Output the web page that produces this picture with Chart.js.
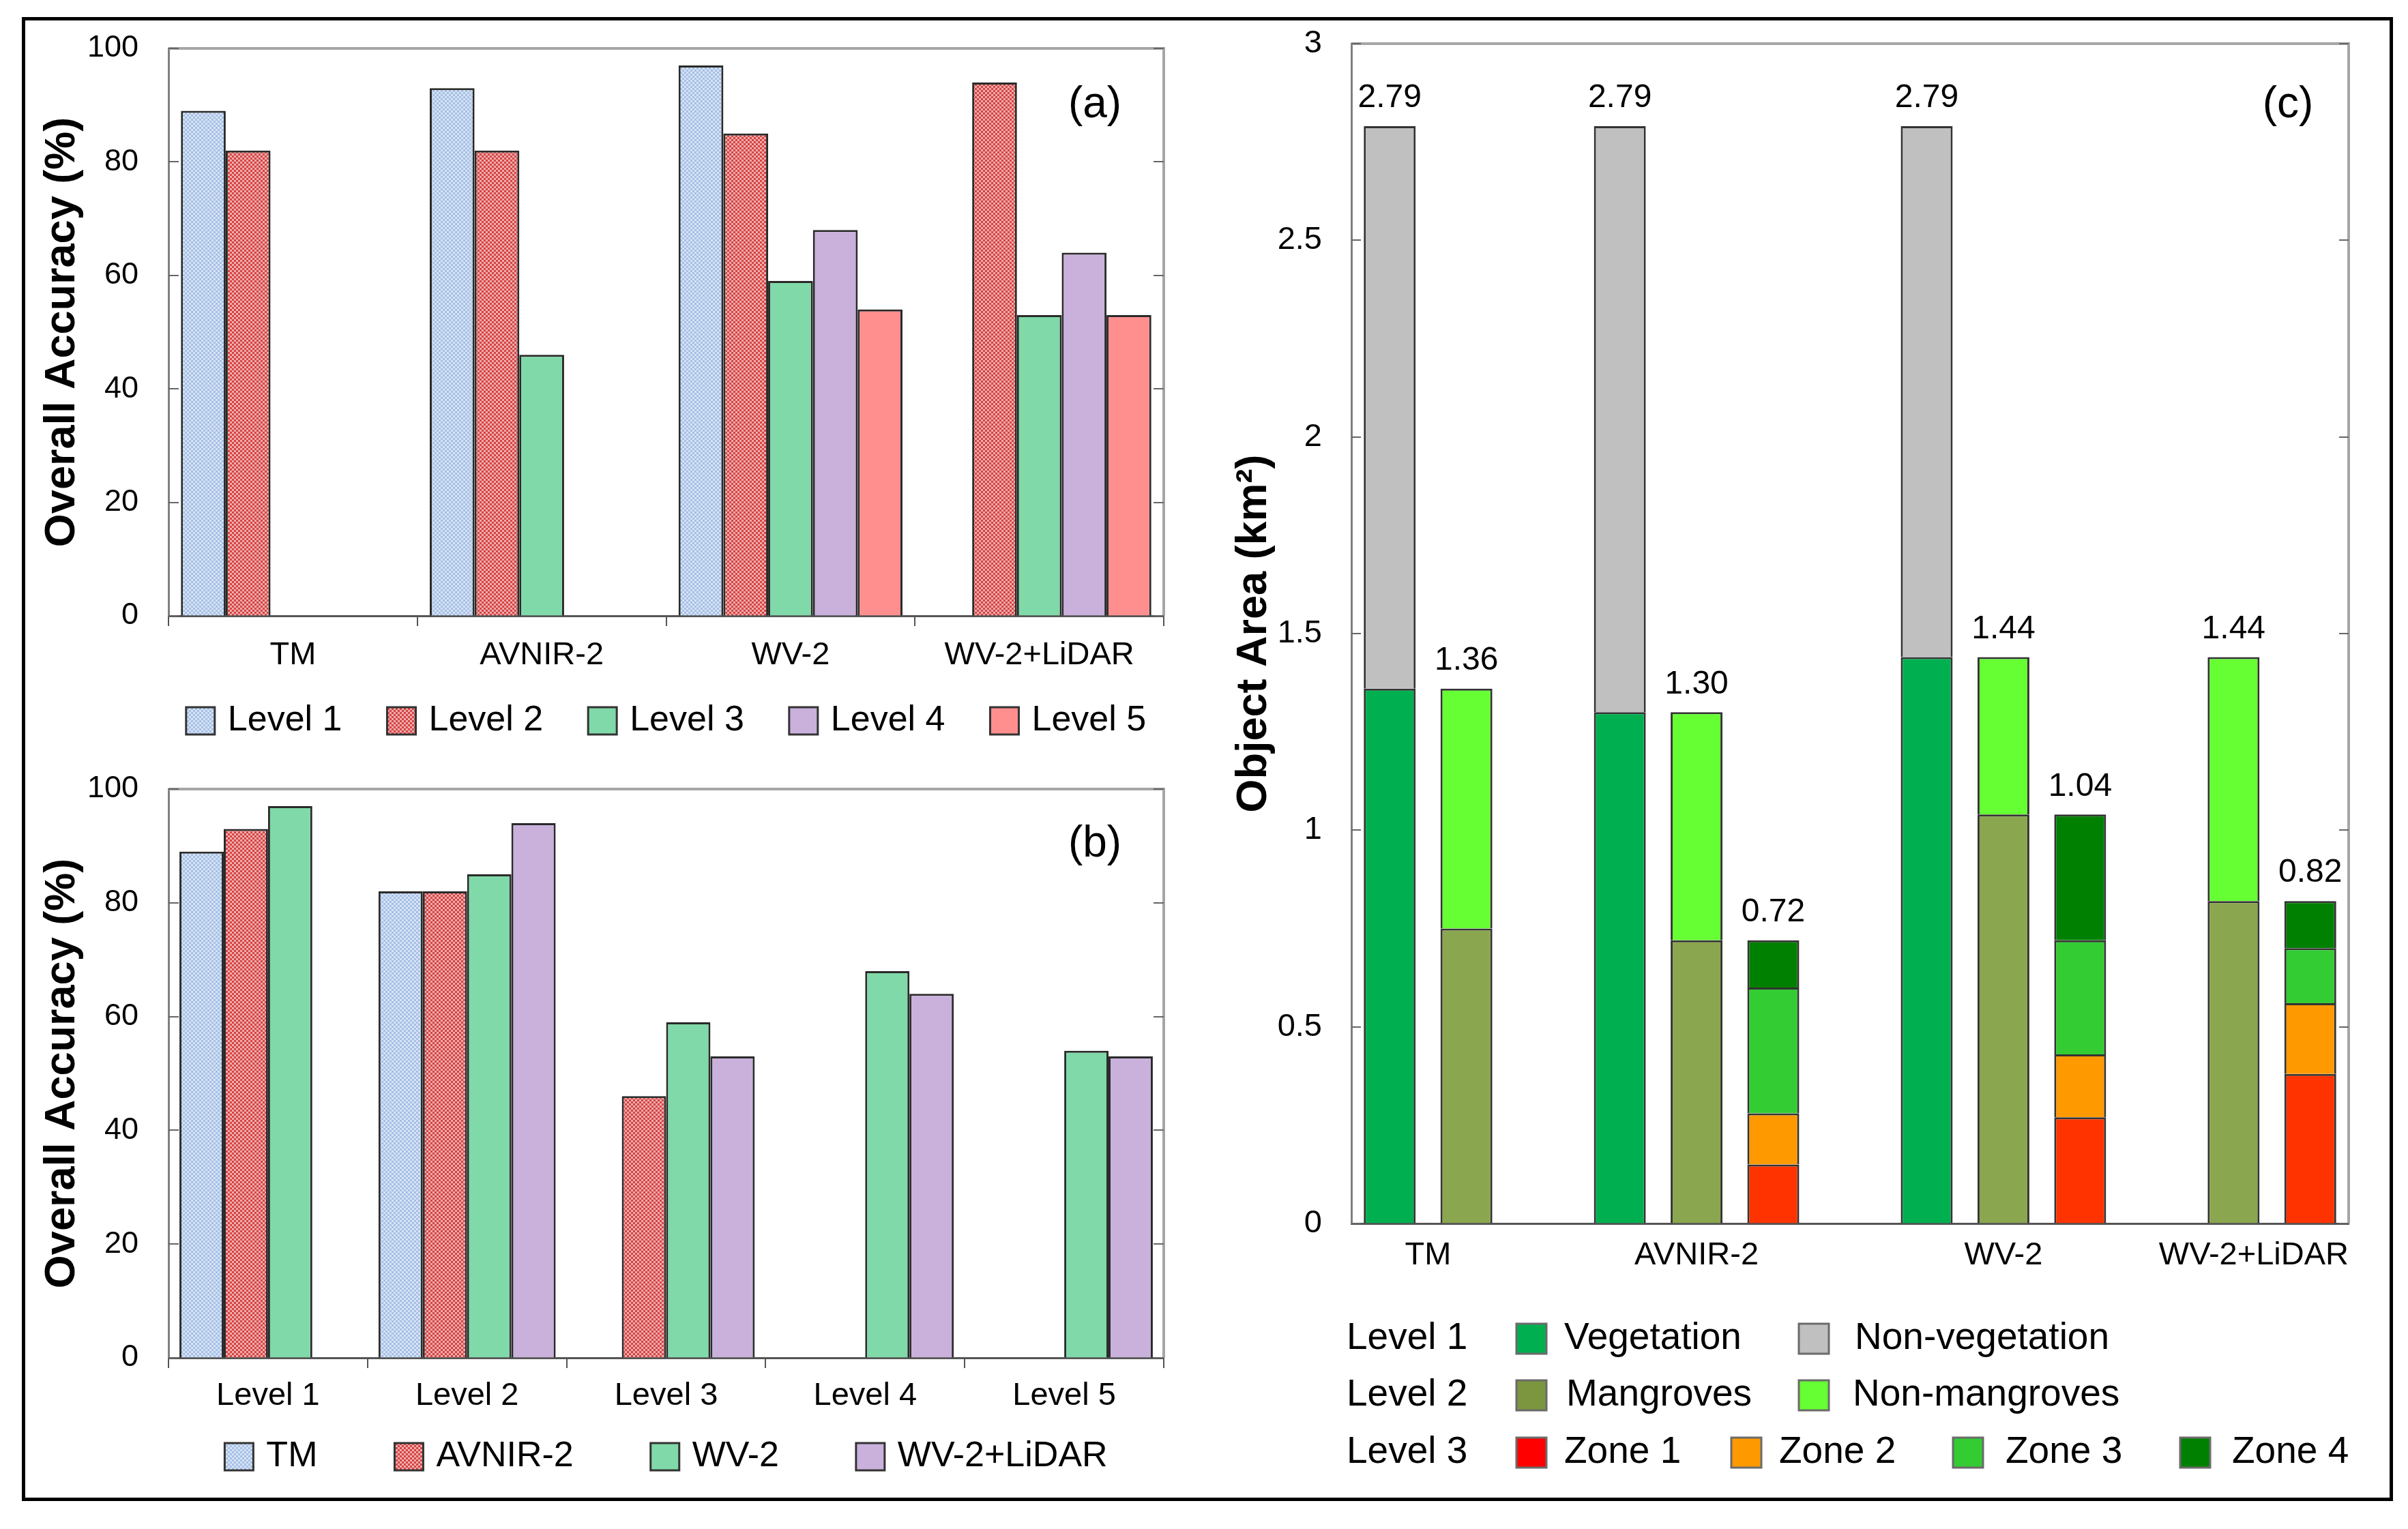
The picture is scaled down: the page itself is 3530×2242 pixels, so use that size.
<!DOCTYPE html>
<html>
<head>
<meta charset="utf-8">
<script src="https://cdn.jsdelivr.net/npm/chart.js@4.4.1/dist/chart.umd.min.js"></script>
<style>
  html, body { margin: 0; padding: 0; background: #ffffff; }
  body { width: 3530px; height: 2242px; position: relative; overflow: hidden; }
  .box { position: absolute; }
  #frame { position: absolute; left: 32px; top: 25px; width: 3466px; height: 2166px; border: 5px solid #000; pointer-events: none; z-index: 5; }
</style>
</head>
<body>
<div id="frame"></div>
<div class="box" style="left:40px;top:30px;width:1730px;height:1090px"><canvas id="ca"></canvas></div>
<div class="box" style="left:40px;top:1120px;width:1730px;height:1070px"><canvas id="cb"></canvas></div>
<div class="box" style="left:1775px;top:30px;width:1725px;height:2160px"><canvas id="cc"></canvas></div>
<script>
// ---------------- DATA ----------------
const sensors = ["TM", "AVNIR-2", "WV-2", "WV-2+LiDAR"];
const levels = ["Level 1", "Level 2", "Level 3", "Level 4", "Level 5"];
// Overall accuracy (%) per level, indexed by sensor
const accLevel1 = [89, 93, 97, null];
const accLevel2 = [82, 82, 85, 94];
const accLevel3 = [null, 46, 59, 53];
const accLevel4 = [null, null, 68, 64];
const accLevel5 = [null, null, 54, 53];
const yTicksAcc = [0, 20, 40, 60, 80, 100];

// Object area (km2) per sensor
const vegetation    = [1.36, 1.30, 1.44, null];
const nonVegetation = [1.43, 1.49, 1.35, null];
const mangroves     = [0.75, 0.72, 1.04, 0.82];
const nonMangroves  = [0.61, 0.58, 0.40, 0.62];
const zone1 = [null, 0.15, 0.27, 0.38];
const zone2 = [null, 0.13, 0.16, 0.18];
const zone3 = [null, 0.32, 0.29, 0.14];
const zone4 = [null, 0.12, 0.32, 0.12];
const yTicksArea = [0, 0.5, 1, 1.5, 2, 2.5, 3];

// ---------------- LAYOUT (slots on panel c axis) ----------------
const slotStart = [0, 3, 7, 10];   // first slot of each sensor group
const slotCount = 13;

Chart.defaults.font.family = "'Liberation Sans', Arial, Helvetica, sans-serif";
Chart.defaults.color = '#000';
Chart.defaults.animation = false;

function checker(ctx, c1, c2) {
  const cv = document.createElement('canvas');
  cv.width = 6; cv.height = 6;
  const x = cv.getContext('2d');
  x.fillStyle = c2; x.fillRect(0, 0, 6, 6);
  x.fillStyle = c1; x.fillRect(0, 0, 3, 3); x.fillRect(3, 3, 3, 3);
  return ctx.createPattern(cv, 'repeat');
}

// place the plot area top at a fixed canvas offset
function pinTop(chart, wantTop) {
  for (let k = 0; k < 5; k++) {
    const d = wantTop - chart.chartArea.top;
    if (Math.abs(d) < 0.5) break;
    const p = chart.config.options.layout.padding;
    p.top = p.top + d;
    chart.update('none');
  }
}

// ---------------- PLUGINS ----------------
const decor = {
  id: 'decor',
  afterDraw(chart, args, o) {
    const { ctx, chartArea: a } = chart;
    const ys = chart.scales.y;
    ctx.save();
    ctx.strokeStyle = o.frameColor; ctx.lineWidth = o.frameWidth;
    ctx.beginPath();
    ctx.moveTo(a.left, a.top); ctx.lineTo(a.right, a.top); ctx.lineTo(a.right, a.bottom);
    ctx.stroke();
    ctx.strokeStyle = o.tickColor; ctx.lineWidth = 2;
    ys.ticks.forEach(t => {
      const p = Math.round(ys.getPixelForValue(t.value));
      ctx.beginPath();
      ctx.moveTo(a.left, p); ctx.lineTo(a.left + o.tickLen, p);
      ctx.moveTo(a.right, p); ctx.lineTo(a.right - o.tickLen, p);
      ctx.stroke();
    });
    ctx.fillStyle = '#000'; ctx.font = o.letterFont;
    ctx.textAlign = 'center'; ctx.textBaseline = 'middle';
    ctx.fillText(o.letter, a.right - o.letterDx, a.top + o.letterDy);
    ctx.restore();
  }
};

const rowLegend = {
  id: 'rowLegend',
  afterDraw(chart, args, o) {
    if (!o.enabled) return;
    const { ctx, chartArea: a } = chart;
    ctx.save();
    ctx.font = o.font;
    const items = chart.data.datasets.map(d => ({
      label: d.label, fill: d.backgroundColor,
      w: o.box + o.textGap + ctx.measureText(d.label).width
    }));
    const total = items.reduce((s, i) => s + i.w, 0) + o.gap * (items.length - 1);
    let x = (a.left + a.right) / 2 - total / 2;
    const y = a.bottom + o.dy;
    items.forEach(it => {
      ctx.fillStyle = it.fill;
      ctx.fillRect(x, y - o.boxH / 2, o.box, o.boxH);
      ctx.strokeStyle = '#333'; ctx.lineWidth = 3;
      ctx.strokeRect(x, y - o.boxH / 2, o.box, o.boxH);
      ctx.fillStyle = '#000'; ctx.textAlign = 'left'; ctx.textBaseline = 'middle';
      ctx.fillText(it.label, x + o.box + o.textGap, y);
      x += it.w + o.gap;
    });
    ctx.restore();
  }
};

const areaExtras = {
  id: 'areaExtras',
  afterDraw(chart, args, o) {
    if (!o.enabled) return;
    const { ctx, chartArea: a } = chart;
    const xs = chart.scales.x;
    const ds = chart.data.datasets;
    ctx.save();
    // stack totals
    ctx.font = o.valueFont; ctx.fillStyle = '#000';
    ctx.textAlign = 'center'; ctx.textBaseline = 'middle';
    for (let i = 0; i < chart.data.labels.length; i++) {
      let sum = 0, top = null, x = null;
      ds.forEach((d, di) => {
        const v = d.data[i];
        if (v == null) return;
        sum += v;
        const el = chart.getDatasetMeta(di).data[i];
        x = el.x; top = top == null ? el.y : Math.min(top, el.y);
      });
      if (x != null) ctx.fillText(sum.toFixed(2), x, top - o.valueDy);
    }
    // category labels
    ctx.font = o.catFont;
    o.categories.forEach((name, c) => {
      const px = [];
      o.slotCategory.forEach((sc, s) => {
        if (sc !== c) return;
        if (ds.some(d => d.data[s] != null)) px.push(xs.getPixelForValue(s));
      });
      if (!px.length) return;
      let cx = px.reduce((p, q) => p + q, 0) / px.length;
      const w = ctx.measureText(name).width;
      cx = Math.min(cx, a.right - w / 2);
      ctx.fillText(name, cx, a.bottom + o.catDy);
    });
    // grid legend
    ctx.font = o.legendFont;
    o.rows.forEach((row) => {
      const y = a.bottom + row.dy;
      ctx.fillStyle = '#000'; ctx.textAlign = 'left'; ctx.textBaseline = 'middle';
      ctx.fillText(row.title, a.left + o.rowTitleDx, y);
      const members = ds.filter(d => d.level === row.level);
      members.forEach((d, k) => {
        const sx = a.left + row.cols[k];
        ctx.fillStyle = d.legendColor || d.backgroundColor;
        ctx.fillRect(sx, y - o.box / 2, o.box, o.box);
        ctx.strokeStyle = '#6b6b6b'; ctx.lineWidth = 3;
        ctx.strokeRect(sx, y - o.box / 2, o.box, o.box);
        ctx.fillStyle = '#000';
        ctx.fillText(d.label, a.left + row.texts[k], y);
      });
    });
    ctx.restore();
  }
};

// ---------------- PANELS (a) and (b) ----------------
const ctxA = document.getElementById('ca').getContext('2d');
const ctxB = document.getElementById('cb').getContext('2d');
const accByLevel = [accLevel1, accLevel2, accLevel3, accLevel4, accLevel5];

function levelFills(ctx) {
  return [
    checker(ctx, '#a6bfe5', '#d6e3f4'),
    checker(ctx, '#d54444', '#efacac'),
    '#80d9a8',
    '#c9b1dc',
    '#ff8f8f'
  ];
}
const fillsA = levelFills(ctxA);
const fillsB = levelFills(ctxB);

function accScales(tickPad, xHeight, yWidth) {
  return {
    x: {
      offset: true,
      grid: { display: true, offset: true, drawOnChartArea: false, drawTicks: true, tickLength: 15, color: '#555', lineWidth: 2 },
      border: { display: true, color: '#555', width: 3 },
      ticks: { font: { size: 47 }, color: '#000', padding: tickPad, maxRotation: 0, autoSkip: false },
      afterFit(s) { s.height = xHeight; }
    },
    y: {
      min: 0, max: 100,
      afterBuildTicks(s) { s.ticks = yTicksAcc.map(v => ({ value: v })); },
      grid: { display: true, drawOnChartArea: false, drawTicks: true, tickLength: 44, tickColor: 'rgba(0,0,0,0)' },
      border: { display: true, color: '#808080', width: 3 },
      ticks: { font: { size: 45 }, color: '#000', padding: 0 },
      title: { display: true, text: 'Overall Accuracy (%)', font: { size: 63, weight: 'bold' }, color: '#000', padding: 0 },
      afterFit(s) { s.width = yWidth; }
    }
  };
}

const chartA = new Chart(ctxA, {
  type: 'bar',
  data: {
    labels: sensors,
    datasets: levels.map((lv, i) => ({
      label: lv, data: accByLevel[i],
      backgroundColor: fillsA[i], borderColor: '#2a2a2a', borderWidth: 3,
      categoryPercentage: 0.9, barPercentage: 1.0
    }))
  },
  options: {
    responsive: true, maintainAspectRatio: false, devicePixelRatio: 1,
    layout: { padding: { left: 14, top: 41, right: 64, bottom: 0 } },
    scales: accScales(15, 217, 193),
    plugins: {
      legend: { display: false }, tooltip: { enabled: false },
      decor: { frameColor: '#a6a6a6', frameWidth: 4, tickColor: '#666', tickLen: 15, letter: '(a)', letterFont: '64px "Liberation Sans", Arial, sans-serif', letterDx: 101, letterDy: 83 },
      rowLegend: { enabled: true, font: '52px "Liberation Sans", Arial, sans-serif', box: 42, boxH: 40, textGap: 19, gap: 66, dy: 154 },
      areaExtras: { enabled: false }
    }
  },
  plugins: [decor, rowLegend, areaExtras]
});
pinTop(chartA, 41);

const chartB = new Chart(ctxB, {
  type: 'bar',
  data: {
    labels: levels,
    datasets: sensors.map((s, si) => ({
      label: s, data: accByLevel.map(arr => arr[si]),
      backgroundColor: fillsB[si], borderColor: '#2a2a2a', borderWidth: 3,
      categoryPercentage: 0.89, barPercentage: 1.0
    }))
  },
  options: {
    responsive: true, maintainAspectRatio: false, devicePixelRatio: 1,
    layout: { padding: { left: 14, top: 37, right: 64, bottom: 0 } },
    scales: accScales(13, 199, 193),
    plugins: {
      legend: { display: false }, tooltip: { enabled: false },
      decor: { frameColor: '#a6a6a6', frameWidth: 4, tickColor: '#666', tickLen: 15, letter: '(b)', letterFont: '64px "Liberation Sans", Arial, sans-serif', letterDx: 101, letterDy: 81 },
      rowLegend: { enabled: true, font: '52px "Liberation Sans", Arial, sans-serif', box: 42, boxH: 40, textGap: 19, gap: 113, dy: 145 },
      areaExtras: { enabled: false }
    }
  },
  plugins: [decor, rowLegend, areaExtras]
});
pinTop(chartB, 37);

// ---------------- PANEL (c) ----------------
const slotCategory = new Array(slotCount).fill(-1);
const slotLabels = new Array(slotCount).fill('');
sensors.forEach((s, c) => {
  for (let l = 0; l < 3; l++) {
    slotCategory[slotStart[c] + l] = c;
    slotLabels[slotStart[c] + l] = s + ' L' + (l + 1);
  }
});
function toSlots(values, level) {
  const out = new Array(slotCount).fill(null);
  values.forEach((v, c) => { out[slotStart[c] + level - 1] = v; });
  return out;
}
const areaSeries = [
  { label: 'Vegetation',     values: vegetation,    level: 1, color: '#00b050' },
  { label: 'Non-vegetation', values: nonVegetation, level: 1, color: '#c0c0c0' },
  { label: 'Mangroves',      values: mangroves,     level: 2, color: '#8aa64f', legendColor: '#7b963f' },
  { label: 'Non-mangroves',  values: nonMangroves,  level: 2, color: '#66ff33' },
  { label: 'Zone 1',         values: zone1,         level: 3, color: '#ff3300', legendColor: '#ff0000' },
  { label: 'Zone 2',         values: zone2,         level: 3, color: '#ff9900' },
  { label: 'Zone 3',         values: zone3,         level: 3, color: '#33cc33' },
  { label: 'Zone 4',         values: zone4,         level: 3, color: '#008000' }
];

const chartC = new Chart(document.getElementById('cc'), {
  type: 'bar',
  data: {
    labels: slotLabels,
    datasets: areaSeries.map(s => ({
      label: s.label, level: s.level, legendColor: s.legendColor,
      data: toSlots(s.values, s.level),
      backgroundColor: s.color, borderColor: '#333', borderWidth: 3,
      categoryPercentage: 1.0, barPercentage: 0.676
    }))
  },
  options: {
    responsive: true, maintainAspectRatio: false, devicePixelRatio: 1,
    layout: { padding: { left: 26, top: 34, right: 57, bottom: 0 } },
    scales: {
      x: {
        stacked: true, offset: true,
        grid: { display: true, drawOnChartArea: false, drawTicks: false },
        border: { display: true, color: '#555', width: 3 },
        ticks: { display: false },
        afterFit(s) { s.height = 396; }
      },
      y: {
        stacked: true, min: 0, max: 3,
        afterBuildTicks(s) { s.ticks = yTicksArea.map(v => ({ value: v })); },
        grid: { display: true, drawOnChartArea: false, drawTicks: true, tickLength: 43, tickColor: 'rgba(0,0,0,0)' },
        border: { display: true, color: '#808080', width: 3 },
        ticks: { font: { size: 47 }, color: '#000', padding: 0, callback: v => String(v) },
        title: { display: true, text: 'Object Area (km²)', font: { size: 63, weight: 'bold' }, color: '#000', padding: 0 },
        afterFit(s) { s.width = 180; }
      }
    },
    plugins: {
      legend: { display: false }, tooltip: { enabled: false },
      decor: { frameColor: '#a6a6a6', frameWidth: 4, tickColor: '#666', tickLen: 14, letter: '(c)', letterFont: '64px "Liberation Sans", Arial, sans-serif', letterDx: 89, letterDy: 90 },
      rowLegend: { enabled: false },
      areaExtras: {
        enabled: true,
        valueFont: '48px "Liberation Sans", Arial, sans-serif', valueDy: 41,
        catFont: '47px "Liberation Sans", Arial, sans-serif', catDy: 47,
        categories: sensors, slotCategory: slotCategory,
        legendFont: '55px "Liberation Sans", Arial, sans-serif', box: 44, rowTitleDx: -7,
        rows: [
          { title: 'Level 1', level: 1, dy: 169, cols: [242, 656], texts: [312, 738] },
          { title: 'Level 2', level: 2, dy: 252, cols: [242, 656], texts: [315, 735] },
          { title: 'Level 3', level: 3, dy: 336, cols: [242, 557, 882, 1215], texts: [312, 627, 959, 1291] }
        ]
      }
    }
  },
  plugins: [decor, rowLegend, areaExtras]
});
pinTop(chartC, 34);
</script>
</body>
</html>
